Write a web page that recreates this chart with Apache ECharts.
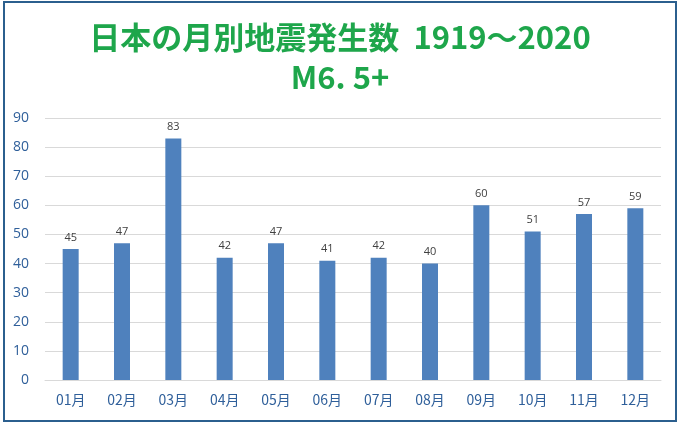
<!DOCTYPE html>
<html>
<head>
<meta charset="utf-8">
<script src="https://cdn.jsdelivr.net/npm/echarts@6/dist/echarts.min.js"></script>
<style>
  html, body { margin: 0; padding: 0; background: #fff; }
  #frame { position: absolute; left: 3px; top: 1px; width: 670px; height: 417px; border: 2px solid #2b5f8e; box-sizing: content-box; }
  #main { width: 680px; height: 426px; position: absolute; left: 0; top: 0; }
</style>
</head>
<body>
<div id="frame"></div>
<div id="main"></div>
<script>
// 月別地震発生数 (M6.5+, 1919-2020)
var months = ['01月', '02月', '03月', '04月', '05月', '06月', '07月', '08月', '09月', '10月', '11月', '12月'];
var counts = [45, 47, 83, 42, 47, 41, 42, 40, 60, 51, 57, 59];
var titleLines = ['日本の月別地震発生数  1919～2020', 'M6. 5+'];

var chart = echarts.init(document.getElementById('main'));
chart.setOption({
  animation: false,
  title: {
    text: titleLines.join('\n'),
    left: 'center',
    top: 12,
    textStyle: {
      color: '#1ea64b',
      fontSize: 31,
      fontWeight: 'bold',
      fontFamily: '"Noto Sans CJK JP", sans-serif',
      lineHeight: 40
    }
  },
  grid: {
    left: 45,
    right: 19,
    top: 118,
    bottom: 46
  },
  xAxis: {
    type: 'category',
    data: months,
    axisLine: { lineStyle: { color: '#d9d9d9' } },
    axisTick: { show: false },
    axisLabel: {
      color: '#2f5f9a',
      fontSize: 14,
      margin: 13,
      fontFamily: '"Noto Sans CJK JP", sans-serif'
    }
  },
  yAxis: {
    type: 'value',
    min: 0,
    max: 90,
    interval: 10,
    axisLine: { show: false },
    axisTick: { show: false },
    splitLine: { lineStyle: { color: '#d9d9d9' } },
    axisLabel: {
      color: '#2f5f9a',
      fontSize: 14,
      margin: 16,
      fontFamily: 'Open Sans, sans-serif'
    }
  },
  series: [{
    type: 'bar',
    data: counts,
    barWidth: 16,
    itemStyle: { color: '#4f81bd' },
    label: {
      show: true,
      position: 'top',
      distance: 6,
      color: '#404040',
      fontSize: 11,
      fontFamily: 'Open Sans, sans-serif'
    }
  }]
});
</script>
</body>
</html>
